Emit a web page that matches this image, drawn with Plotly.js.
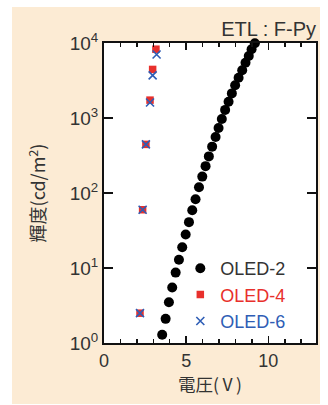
<!DOCTYPE html>
<html>
<head>
<meta charset="utf-8">
<script src="https://cdn.plot.ly/plotly-3.0.1.min.js"></script>
<style>
  html, body { margin: 0; padding: 0; background: #ffffff; width: 328px; height: 405px; overflow: hidden; }
  #chart { position: absolute; left: 12px; top: 7px; width: 308px; height: 397px; }
</style>
</head>
<body>
<div id="chart"></div>
<script>
// OLED-2 (black circles)
const oled2Voltage = [3.54, 3.75, 3.95, 4.15, 4.36, 4.56, 4.76, 4.97, 5.17, 5.37,
                      5.57, 5.78, 5.98, 6.18, 6.38, 6.58, 6.79, 6.97, 7.17, 7.37,
                      7.58, 7.78, 7.98, 8.19, 8.41, 8.61, 8.81, 8.98, 9.18];
const oled2Lum = [1.29, 2.1, 3.5, 5.5, 8.7, 12.9, 19, 28, 41, 59,
                  83, 120, 166, 229, 309, 417, 562, 741, 977, 1290,
                  1660, 2140, 2750, 3470, 4370, 5500, 6760, 8320, 9990];
// OLED-4 (red squares)
const oled4Voltage = [2.19, 2.35, 2.55, 2.80, 2.96, 3.16];
const oled4Lum = [2.5, 60, 447, 1740, 4470, 8320];
// OLED-6 (blue crosses)
const oled6Voltage = [2.19, 2.35, 2.55, 2.80, 2.96, 3.20];
const oled6Lum = [2.5, 60, 447, 1620, 3720, 7080];

const seriesNames = ['OLED-2', 'OLED-4', 'OLED-6'];
const xTickVals = [0, 5, 10];
const yTickVals = [1, 10, 100, 1000, 10000];
const yTickText = ['10<sup>0</sup>', '10<sup>1</sup>', '10<sup>2</sup>', '10<sup>3</sup>', '10<sup>4</sup>'];

const BLACK = '#000000';
const RED = '#e8302c';
const BLUE = '#2e5db5';
const TEXT = '#333333';
const LATIN = 'Liberation Sans, Arial, Helvetica, sans-serif';
const CJK = 'Noto Sans CJK JP, Liberation Sans, sans-serif';

const traces = [
  {
    x: oled2Voltage, y: oled2Lum, type: 'scatter', mode: 'markers',
    name: '<span style="color:' + TEXT + '">' + seriesNames[0] + '</span>',
    marker: { symbol: 'circle', size: 10, color: BLACK },
    cliponaxis: false
  },
  {
    x: oled4Voltage, y: oled4Lum, type: 'scatter', mode: 'markers',
    name: '<span style="color:' + RED + '">' + seriesNames[1] + '</span>',
    marker: { symbol: 'square', size: 7.5, color: RED },
    cliponaxis: false
  },
  {
    x: oled6Voltage, y: oled6Lum, type: 'scatter', mode: 'markers',
    name: '<span style="color:' + BLUE + '">' + seriesNames[2] + '</span>',
    marker: { symbol: 'x-thin-open', size: 8, color: BLUE, line: { color: BLUE, width: 1.6 } },
    cliponaxis: false
  }
];

const layout = {
  width: 308, height: 397,
  paper_bgcolor: '#fcebd4',
  plot_bgcolor: '#ffffff',
  margin: { l: 92, r: 4, t: 36, b: 61 },
  font: { family: LATIN, color: TEXT, size: 17 },
  showlegend: true,
  legend: {
    x: 0.36, y: 0.31, xanchor: 'left', yanchor: 'top',
    bgcolor: 'rgba(0,0,0,0)', borderwidth: 0,
    font: { family: LATIN, size: 18, color: TEXT },
    itemwidth: 30
  },
  title: {
    text: 'ETL : F-Py',
    font: { family: LATIN, size: 20, color: TEXT },
    xref: 'paper', x: 1, xanchor: 'right',
    yref: 'container', y: 0.945, yanchor: 'middle'
  },
  xaxis: {
    type: 'linear', range: [0, 12.9],
    tickmode: 'array', tickvals: xTickVals,
    ticks: 'inside', ticklen: 7, tickwidth: 1.5, tickcolor: '#111111',
    minor: { dtick: 1, tick0: 0, ticks: 'inside', ticklen: 4, tickwidth: 1.5, tickcolor: '#111111', showgrid: false },
    showline: true, linewidth: 2, linecolor: '#111111', mirror: 'ticks',
    showgrid: false, zeroline: false,
    tickfont: { family: LATIN, size: 18, color: TEXT },
    title: { text: '電圧(\u2009V\u2009)', font: { family: CJK, size: 17.5, color: TEXT }, standoff: 8 }
  },
  yaxis: {
    type: 'log', range: [0, 4.003],
    tickmode: 'array', tickvals: yTickVals, ticktext: yTickText,
    ticks: 'inside', ticklen: 9, tickwidth: 1.5, tickcolor: '#111111',
    showline: true, linewidth: 2, linecolor: '#111111', mirror: 'ticks',
    showgrid: false, zeroline: false,
    tickfont: { family: LATIN, size: 19, color: TEXT },
    title: { text: '輝度(cd/m<sup>2</sup>)', font: { family: CJK, size: 18, color: TEXT }, standoff: 19 }
  }
};

Plotly.newPlot('chart', traces, layout, { staticPlot: true, displayModeBar: false });
</script>
</body>
</html>
